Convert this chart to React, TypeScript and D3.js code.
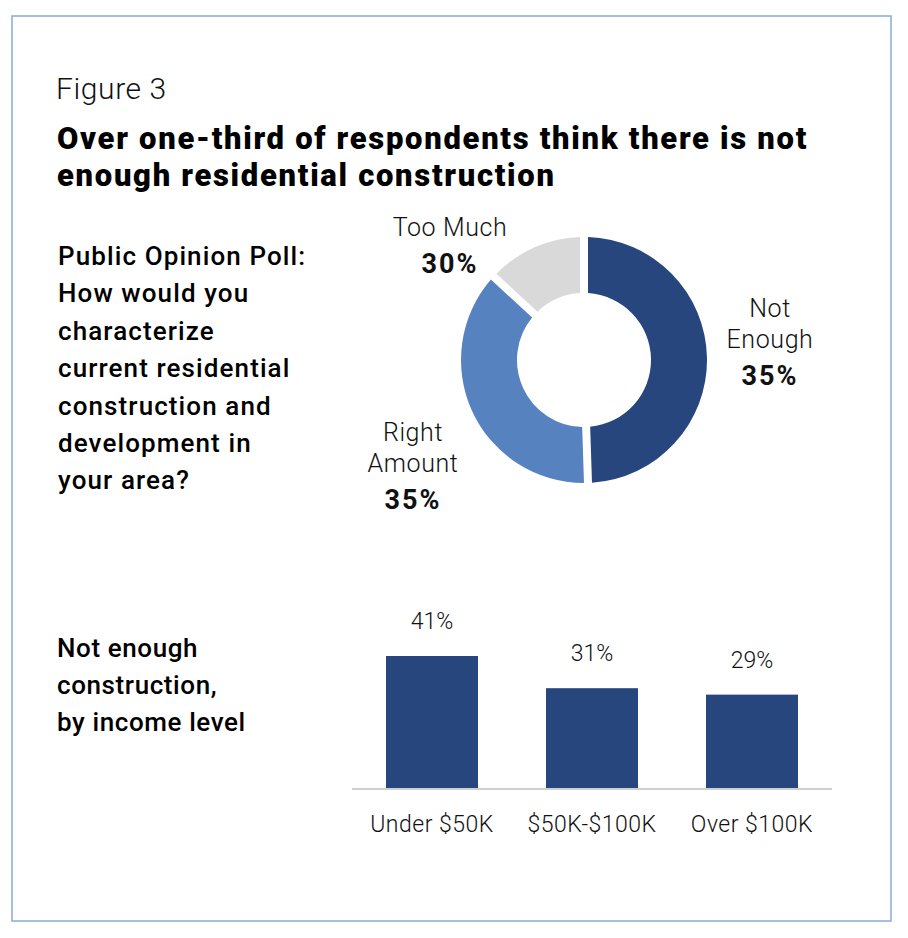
import * as d3 from "d3";

// donut: arc shares as drawn, label values as printed
const opinionLabels = [["Not", "Enough"], ["Right", "Amount"], ["Too Much"]];
const opinionShares = [50, 37.5, 12.5];
const opinionPct = ["35%", "35%", "30%"];
const opinionColors = ["#26467d", "#5683bf", "#d9d9d9"];

const incomeLevels = ["Under $50K", "$50K-$100K", "Over $100K"];
const notEnoughPct = [41, 31, 29];

const questionLines = [
  "Public Opinion Poll:",
  "How would you",
  "characterize",
  "current residential",
  "construction and",
  "development in",
  "your area?",
];
const barTitleLines = ["Not enough", "construction,", "by income level"];

const FONT = "Roboto, 'Liberation Sans', sans-serif";
const NAVY = "#26467d";

export default function App() {
  const cx = 584;
  const cy = 360;

  const pie = d3
    .pie<number>()
    .value((d) => d)
    .sort(null)
    .padAngle(0.065);
  const arcs = pie(opinionShares);
  const arcGen = d3
    .arc<d3.PieArcDatum<number>>()
    .innerRadius(67)
    .outerRadius(123)
    .padRadius(123);

  // label anchor positions relative to donut centre
  const labelPos = [
    { x: 186, y: -43 },
    { x: -171, y: 81 },
    { x: -134, y: -124 },
  ];

  const xBand = d3
    .scaleBand()
    .domain(incomeLevels)
    .range([352, 832])
    .paddingInner(0.425)
    .paddingOuter(0.2125);
  const baseY = 788;
  const yScale = d3.scaleLinear().domain([0, 41]).range([baseY, 656]);

  return (
    <svg
      width={908}
      height={938}
      style={{ position: "absolute", left: 0, top: 0, fontFamily: FONT }}
    >
      <rect x={0} y={0} width={908} height={938} fill="#fff" />
      <rect
        x={12}
        y={16}
        width={879}
        height={905}
        fill="#fff"
        stroke="#86abdb"
        strokeWidth={1.5}
      />

      <text x={56} y={99} fontSize={30} fontWeight={300} letterSpacing={0.6} fill="#111">
        Figure 3
      </text>
      <text x={57} y={149} fontSize={31} fontWeight={900} letterSpacing={1.7} fill="#000">
        Over one-third of respondents think there is not
      </text>
      <text x={57} y={186} fontSize={31} fontWeight={900} letterSpacing={1.7} fill="#000">
        enough residential construction
      </text>

      {questionLines.map((l, i) => (
        <text
          key={l}
          x={58}
          y={265 + i * 37.4}
          fontSize={26}
          fontWeight={500}
          letterSpacing={1.1}
          fill="#000"
        >
          {l}
        </text>
      ))}

      <g transform={`translate(${cx},${cy})`}>
        {arcs.map((a, i) => (
          <path key={i} d={arcGen(a) ?? ""} fill={opinionColors[i]} />
        ))}
        {opinionLabels.map((lines, i) => (
          <text
            key={i}
            x={labelPos[i].x}
            y={labelPos[i].y}
            textAnchor="middle"
            fill="#111"
          >
            {lines.map((l, j) => (
              <tspan
                key={j}
                x={labelPos[i].x}
                dy={j === 0 ? 0 : 31}
                fontSize={25}
                fontWeight={300}
                letterSpacing={0.6}
              >
                {l}
              </tspan>
            ))}
            <tspan
              x={labelPos[i].x}
              dy={37}
              fontSize={27}
              fontWeight={700}
              letterSpacing={2}
            >
              {opinionPct[i]}
            </tspan>
          </text>
        ))}
      </g>

      {barTitleLines.map((l, i) => (
        <text
          key={l}
          x={57}
          y={657 + i * 37}
          fontSize={26}
          fontWeight={500}
          letterSpacing={0.6}
          fill="#000"
        >
          {l}
        </text>
      ))}

      {notEnoughPct.map((v, i) => (
        <g key={incomeLevels[i]}>
          <rect
            x={xBand(incomeLevels[i])}
            y={yScale(v)}
            width={xBand.bandwidth()}
            height={baseY - yScale(v)}
            fill={NAVY}
          />
          <text
            x={(xBand(incomeLevels[i]) ?? 0) + xBand.bandwidth() / 2}
            y={yScale(v) - 27}
            textAnchor="middle"
            fontSize={23}
            fontWeight={300}
            fill="#111"
          >
            {v}%
          </text>
          <text
            x={(xBand(incomeLevels[i]) ?? 0) + xBand.bandwidth() / 2}
            y={832}
            textAnchor="middle"
            fontSize={23}
            fontWeight={300}
            letterSpacing={0.5}
            fill="#111"
          >
            {incomeLevels[i]}
          </text>
        </g>
      ))}
      <line x1={352} x2={832} y1={baseY + 1} y2={baseY + 1} stroke="#cfcfcf" strokeWidth={2} />
    </svg>
  );
}
